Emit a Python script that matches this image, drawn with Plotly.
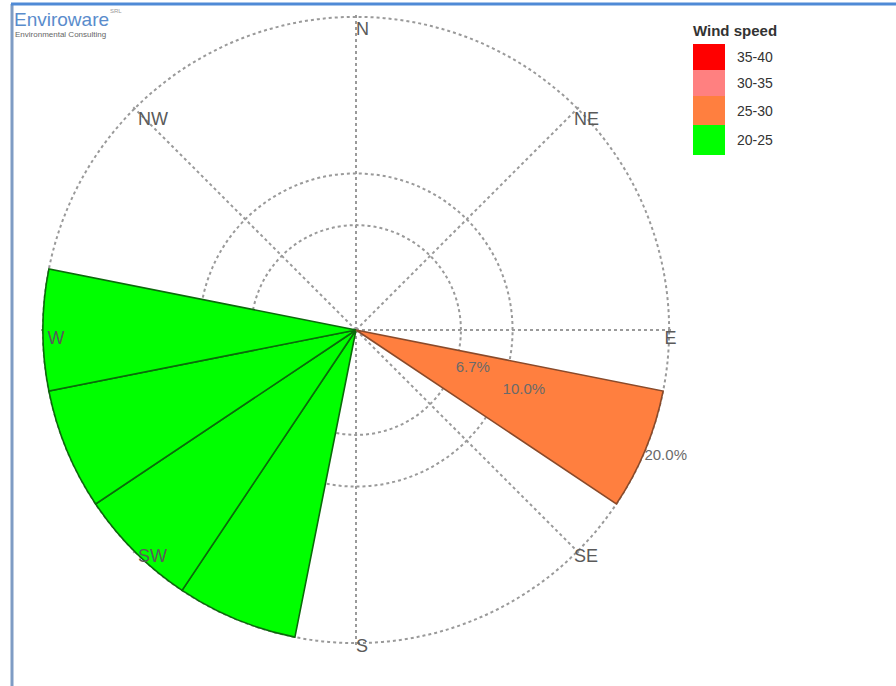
import plotly.graph_objects as go

W, H = 896, 686

# ---------------- data ----------------
speed_classes = ["35-40", "30-35", "25-30", "20-25"]
class_colors = ["#FF0000", "#FF8080", "#FF7F3F", "#00FF00"]
class_outline = ["#8B0000", "#A05050", "#8A4A2A", "#0B6A0B"]

# frequencies (%) per direction for each speed class present
dir_20_25 = ["SSW", "SW", "WSW", "W"]
freq_20_25 = [20.0, 20.0, 20.0, 20.0]
dir_25_30 = ["ESE"]
freq_25_30 = [20.0]

compass16 = ["N", "NNE", "NE", "ENE", "E", "ESE", "SE", "SSE",
             "S", "SSW", "SW", "WSW", "W", "WNW", "NW", "NNW"]
compass8 = ["N", "NE", "E", "SE", "S", "SW", "W", "NW"]

ring_vals = [6.7, 10.0, 20.0]
ring_text = ["6.7%", "10.0%", "20.0%"]

deg = {d: i * 22.5 for i, d in enumerate(compass16)}

# ---------------- figure ----------------
fig = go.Figure()

fig.add_trace(go.Barpolar(
    r=freq_20_25, theta=[deg[d] for d in dir_20_25], width=22.5,
    marker=dict(color=class_colors[3], line=dict(color=class_outline[3], width=1.6)),
    name=speed_classes[3], showlegend=False,
))
fig.add_trace(go.Barpolar(
    r=freq_25_30, theta=[deg[d] for d in dir_25_30], width=22.5,
    marker=dict(color=class_colors[2], line=dict(color=class_outline[2], width=1.6)),
    name=speed_classes[2], showlegend=False,
))

# compass labels, just inside the outer ring
fig.add_trace(go.Scatterpolar(
    r=[ring_vals[-1] * 0.985] * len(compass8), theta=[deg[d] for d in compass8],
    mode="text", text=compass8, textposition="bottom right",
    textfont=dict(family="Liberation Sans, Arial, sans-serif", size=18, color="#5a5a5a"),
    cliponaxis=False, showlegend=False, hoverinfo="skip",
))

cx, cy, R = 356, 330, 315
fig.update_layout(
    width=W, height=H,
    margin=dict(l=0, r=0, t=0, b=0),
    paper_bgcolor="white",
    font=dict(family="Liberation Sans, Arial, sans-serif"),
    showlegend=False,
    polar=dict(
        domain=dict(x=[(cx - R) / W, (cx + R) / W], y=[1 - (cy + R) / H, 1 - (cy - R) / H]),
        bgcolor="rgba(0,0,0,0)",
        bargap=0,
        radialaxis=dict(
            range=[0, 20.12], tickvals=ring_vals + [20.12], ticktext=ring_text + [""],
            showline=False, ticks="", angle=-25, tickangle=-25,
            side="counterclockwise",
            gridcolor="#9a9a9a", griddash="dot", gridwidth=1.5,
            tickfont=dict(size=15, color="#6a6a6a"), layer="above traces",
        ),
        angularaxis=dict(
            rotation=90, direction="clockwise",
            tickvals=[deg[d] for d in compass8], showticklabels=False, ticks="",
            showline=False, gridcolor="#9a9a9a", griddash="dot", gridwidth=1.5,
        ),
    ),
)

# ---------------- legend (manual, contiguous boxes) ----------------
def px(x):
    return x / W

def py(y):
    return 1 - y / H

shapes = []
annotations = []
box_x0, box_x1 = 693, 725
box_tops = [44, 70, 96, 125]
box_h = [26, 26, 29, 30]
for lab, col, top, h in zip(speed_classes, class_colors, box_tops, box_h):
    shapes.append(dict(type="rect", xref="paper", yref="paper",
                       x0=px(box_x0), x1=px(box_x1), y0=py(top + h), y1=py(top),
                       fillcolor=col, line=dict(width=0)))
    annotations.append(dict(xref="paper", yref="paper", x=px(735), y=py(top + h / 2),
                            text=lab, showarrow=False, xanchor="left", yanchor="middle",
                            font=dict(size=14, color="#333333")))
annotations.append(dict(xref="paper", yref="paper", x=px(691), y=py(30),
                        text="<b>Wind speed</b>", showarrow=False, xanchor="left", yanchor="middle",
                        font=dict(size=15, color="#333333")))

# logo
annotations.append(dict(xref="paper", yref="paper", x=px(12), y=py(19),
                        text="Enviroware", showarrow=False, xanchor="left", yanchor="middle",
                        font=dict(size=19, color="#5a8ccc")))
annotations.append(dict(xref="paper", yref="paper", x=px(108), y=py(11),
                        text="SRL", showarrow=False, xanchor="left", yanchor="middle",
                        font=dict(size=6, color="#9a9a9a")))
annotations.append(dict(xref="paper", yref="paper", x=px(13), y=py(35),
                        text="Environmental Consulting", showarrow=False,
                        xanchor="left", yanchor="middle",
                        font=dict(size=8, color="#666666")))

# frame lines
shapes.append(dict(type="line", xref="paper", yref="paper", x0=px(12), x1=px(12), y0=0, y1=py(4),
                   line=dict(color="#7f9cc4", width=3)))
shapes.append(dict(type="line", xref="paper", yref="paper", x0=px(11), x1=1, y0=py(4), y1=py(4),
                   line=dict(color="#4f8ad6", width=3)))

fig.update_layout(shapes=shapes, annotations=annotations)

fig.write_html("out.html", config={"displayModeBar": False},
               post_script="document.body.style.margin='0px';")
